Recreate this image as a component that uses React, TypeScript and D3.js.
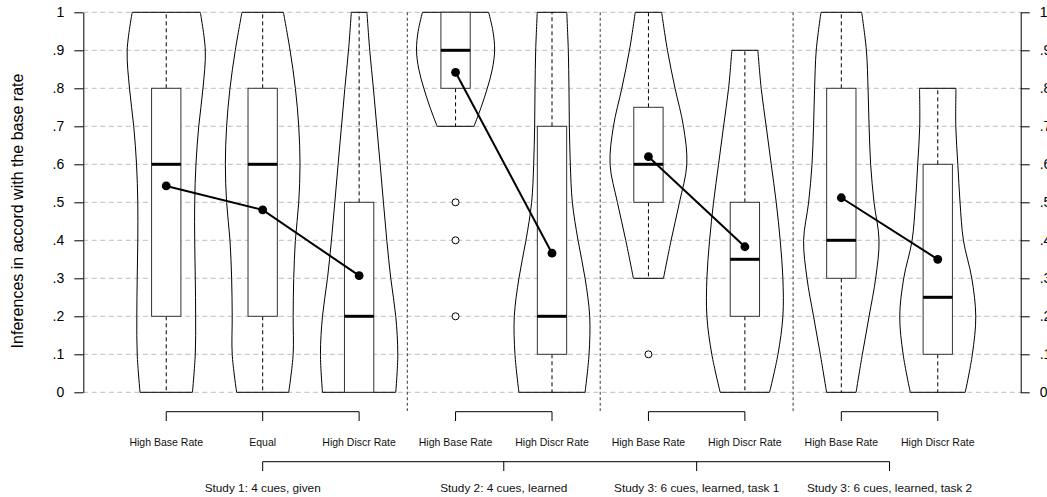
// Violin + box plots of base-rate-consistent inferences, four studies.
// d3 draws everything in useEffect; R-style look (hairline axes, dashed grid).
import { useEffect, useRef } from "react";
import * as d3 from "d3";

const W = 1047;
const H = 497;

// condition per x position (1..9)
const CONDITIONS = [
  "High Base Rate", "Equal", "High Discr Rate",
  "High Base Rate", "High Discr Rate",
  "High Base Rate", "High Discr Rate",
  "High Base Rate", "High Discr Rate",
];
const STUDIES = [
  "Study 1: 4 cues, given",
  "Study 2: 4 cues, learned",
  "Study 3: 6 cues, learned, task 1",
  "Study 3: 6 cues, learned, task 2",
];
// positions belonging to each study
const STUDY_POS = [[1, 2, 3], [4, 5], [6, 7], [8, 9]];

// box-plot stats per position
const WHISK_LO = [0, 0, 0, 0.7, 0, 0.3, 0, 0, 0];
const Q1 = [0.2, 0.2, 0, 0.8, 0.1, 0.5, 0.2, 0.3, 0.1];
const MEDIAN = [0.6, 0.6, 0.2, 0.9, 0.2, 0.6, 0.35, 0.4, 0.25];
const Q3 = [0.8, 0.8, 0.5, 1.0, 0.7, 0.75, 0.5, 0.8, 0.6];
const WHISK_HI = [1, 1, 1, 1, 1, 1, 0.9, 1, 0.8];
const MEANS = [0.543, 0.48, 0.307, 0.842, 0.366, 0.62, 0.383, 0.512, 0.35];
const OUTLIERS = [[], [], [], [0.5, 0.4, 0.2], [], [0.1], [], [], []];

// violin outlines: levels and half-width (x units) at each level
const V_LEVELS = [
  [0, 0.1, 0.2, 0.3, 0.4, 0.5, 0.6, 0.7, 0.8, 0.9, 1],
  [0, 0.1, 0.2, 0.3, 0.4, 0.5, 0.6, 0.7, 0.8, 0.9, 1],
  [0, 0.1, 0.2, 0.3, 0.4, 0.5, 0.6, 0.7, 0.8, 0.9, 1],
  [0.7, 0.75, 0.8, 0.85, 0.9, 0.95, 1],
  [0, 0.1, 0.2, 0.3, 0.4, 0.5, 0.6, 0.7, 0.8, 0.9, 1],
  [0.3, 0.4, 0.5, 0.6, 0.7, 0.8, 0.9, 1],
  [0, 0.1, 0.2, 0.3, 0.4, 0.5, 0.6, 0.7, 0.8, 0.9],
  [0, 0.1, 0.2, 0.3, 0.4, 0.5, 0.6, 0.7, 0.8, 0.9, 1],
  [0, 0.1, 0.2, 0.3, 0.4, 0.5, 0.6, 0.7, 0.8],
];
const V_WIDTH = [
  [0.272, 0.301, 0.305, 0.301, 0.295, 0.295, 0.308, 0.337, 0.381, 0.405, 0.353],
  [0.270, 0.316, 0.316, 0.322, 0.339, 0.374, 0.387, 0.374, 0.339, 0.284, 0.215],
  [0.380, 0.401, 0.380, 0.328, 0.287, 0.252, 0.218, 0.183, 0.148, 0.110, 0.081],
  [0.191, 0.265, 0.329, 0.381, 0.405, 0.388, 0.343],
  [0.343, 0.384, 0.391, 0.343, 0.270, 0.211, 0.190, 0.180, 0.176, 0.169, 0.153],
  [0.156, 0.235, 0.322, 0.398, 0.363, 0.276, 0.197, 0.137],
  [0.256, 0.343, 0.394, 0.394, 0.366, 0.325, 0.273, 0.221, 0.169, 0.135],
  [0.153, 0.218, 0.288, 0.356, 0.391, 0.339, 0.304, 0.288, 0.277, 0.260, 0.211],
  [0.285, 0.359, 0.394, 0.353, 0.266, 0.231, 0.208, 0.187, 0.189],
];

const Y_TICKS = [0, 0.1, 0.2, 0.3, 0.4, 0.5, 0.6, 0.7, 0.8, 0.9, 1];
const SEPARATORS = [3.5, 5.5, 7.5];
const BOX_HALF = 0.152;
const FONT = "'Liberation Sans', Arial, Helvetica, sans-serif";

export default function App() {
  const ref = useRef<SVGSVGElement>(null);

  useEffect(() => {
    const el = ref.current;
    if (!el) return;
    const svg = d3.select(el);
    svg.selectAll("*").remove();

    const x = d3.scaleLinear().domain([0.14, 9.86]).range([83.3, 1020.7]);
    const y = d3.scaleLinear().domain([0, 1]).range([392.3, 12.3]);
    const [xl, xr] = x.range();

    // grid
    svg
      .append("g")
      .selectAll("line")
      .data(Y_TICKS)
      .join("line")
      .attr("x1", xl)
      .attr("x2", xr)
      .attr("y1", (d) => y(d))
      .attr("y2", (d) => y(d))
      .attr("stroke", "#bdbdbd")
      .attr("stroke-width", 1)
      .attr("stroke-dasharray", "5 3.5");

    // study separators
    svg
      .append("g")
      .selectAll("line")
      .data(SEPARATORS)
      .join("line")
      .attr("x1", (d) => x(d))
      .attr("x2", (d) => x(d))
      .attr("y1", y(1))
      .attr("y2", 411)
      .attr("stroke", "#4a4a4a")
      .attr("stroke-width", 1.1)
      .attr("stroke-dasharray", "3 2.5");

    const pos = CONDITIONS.map((_, i) => i + 1);

    // violins
    const area = d3
      .area<{ v: number; w: number; p: number }>()
      .y((d) => y(d.v))
      .x0((d) => x(d.p - d.w))
      .x1((d) => x(d.p + d.w))
      .curve(d3.curveCatmullRom);
    svg
      .append("g")
      .selectAll("path")
      .data(pos)
      .join("path")
      .attr("d", (p, i) =>
        area(V_LEVELS[i].map((v, k) => ({ v, w: V_WIDTH[i][k], p }))),
      )
      .attr("fill", "none")
      .attr("stroke", "#000")
      .attr("stroke-width", 1);

    // whiskers
    const wh = svg.append("g").attr("stroke", "#000").attr("stroke-dasharray", "4 3");
    pos.forEach((p, i) => {
      if (WHISK_HI[i] > Q3[i])
        wh.append("line").attr("x1", x(p)).attr("x2", x(p)).attr("y1", y(Q3[i])).attr("y2", y(WHISK_HI[i]));
      if (WHISK_LO[i] < Q1[i])
        wh.append("line").attr("x1", x(p)).attr("x2", x(p)).attr("y1", y(Q1[i])).attr("y2", y(WHISK_LO[i]));
    });

    // boxes
    svg
      .append("g")
      .selectAll("rect")
      .data(pos)
      .join("rect")
      .attr("x", (p) => x(p - BOX_HALF))
      .attr("width", (p) => x(p + BOX_HALF) - x(p - BOX_HALF))
      .attr("y", (_, i) => y(Q3[i]))
      .attr("height", (_, i) => y(Q1[i]) - y(Q3[i]))
      .attr("fill", "#fff")
      .attr("stroke", "#333")
      .attr("stroke-width", 1);

    // medians
    svg
      .append("g")
      .selectAll("line")
      .data(pos)
      .join("line")
      .attr("x1", (p) => x(p - BOX_HALF))
      .attr("x2", (p) => x(p + BOX_HALF))
      .attr("y1", (_, i) => y(MEDIAN[i]))
      .attr("y2", (_, i) => y(MEDIAN[i]))
      .attr("stroke", "#000")
      .attr("stroke-width", 3);

    // outliers
    svg
      .append("g")
      .selectAll("circle")
      .data(pos.flatMap((p, i) => OUTLIERS[i].map((v) => ({ p, v }))))
      .join("circle")
      .attr("cx", (d) => x(d.p))
      .attr("cy", (d) => y(d.v))
      .attr("r", 3.5)
      .attr("fill", "#fff")
      .attr("stroke", "#000");

    // means, joined within each study
    const line = d3
      .line<number>()
      .x((p) => x(p))
      .y((p) => y(MEANS[p - 1]));
    const mg = svg.append("g");
    STUDY_POS.forEach((ps) => {
      mg.append("path").attr("d", line(ps)).attr("fill", "none").attr("stroke", "#000").attr("stroke-width", 2);
    });
    mg.selectAll("circle")
      .data(pos)
      .join("circle")
      .attr("cx", (p) => x(p))
      .attr("cy", (_, i) => y(MEANS[i]))
      .attr("r", 4.4)
      .attr("fill", "#000");

    // y axes
    const fmt = (d: d3.NumberValue) => {
      const v = Number(d);
      if (v === 0) return "0";
      if (v === 1) return "1";
      return "." + Math.round(v * 10);
    };
    const styleAxis = (g: d3.Selection<SVGGElement, unknown, null, undefined>) => {
      g.selectAll("path, line").attr("stroke", "#000");
      g.selectAll("text").attr("fill", "#000").attr("font-family", FONT).attr("font-size", "14px");
    };
    const gl = svg
      .append("g")
      .attr("transform", `translate(${xl},0)`)
      .call(d3.axisLeft(y).tickValues(Y_TICKS).tickFormat(fmt).tickSizeInner(9).tickSizeOuter(0).tickPadding(10));
    styleAxis(gl);
    const gr = svg
      .append("g")
      .attr("transform", `translate(${xr},0)`)
      .call(d3.axisRight(y).tickValues(Y_TICKS).tickFormat(fmt).tickSizeInner(9).tickSizeOuter(0).tickPadding(10));
    styleAxis(gr);

    svg
      .append("text")
      .attr("transform", `translate(23,211) rotate(-90)`)
      .attr("text-anchor", "middle")
      .attr("font-family", FONT)
      .attr("font-size", "16px")
      .attr("fill", "#000")
      .text("Inferences in accord with the base rate");

    // condition brackets
    const br = svg.append("g").attr("stroke", "#000").attr("fill", "none");
    STUDY_POS.forEach((ps) => {
      br.append("line").attr("x1", x(ps[0])).attr("x2", x(ps[ps.length - 1])).attr("y1", 411.7).attr("y2", 411.7);
      ps.forEach((p) => br.append("line").attr("x1", x(p)).attr("x2", x(p)).attr("y1", 411.7).attr("y2", 421));
    });
    svg
      .append("g")
      .selectAll("text")
      .data(pos)
      .join("text")
      .attr("x", (p) => x(p))
      .attr("y", 446)
      .attr("text-anchor", "middle")
      .attr("font-family", FONT)
      .attr("font-size", "10.5px")
      .attr("fill", "#111")
      .text((_, i) => CONDITIONS[i]);

    // study brackets
    const centers = STUDY_POS.map((ps) => d3.mean(ps) as number);
    br.append("line")
      .attr("x1", x(centers[0]))
      .attr("x2", x(centers[centers.length - 1]))
      .attr("y1", 461.7)
      .attr("y2", 461.7);
    centers.forEach((c) => br.append("line").attr("x1", x(c)).attr("x2", x(c)).attr("y1", 461.7).attr("y2", 471));
    svg
      .append("g")
      .selectAll("text")
      .data(centers)
      .join("text")
      .attr("x", (c) => x(c))
      .attr("y", 492)
      .attr("text-anchor", "middle")
      .attr("font-family", FONT)
      .attr("font-size", "11.8px")
      .attr("fill", "#111")
      .text((_, i) => STUDIES[i]);
  }, []);

  return (
    <svg
      ref={ref}
      width={W}
      height={H}
      viewBox={`0 0 ${W} ${H}`}
      style={{ position: "absolute", left: 0, top: 0, background: "#fff" }}
    />
  );
}
